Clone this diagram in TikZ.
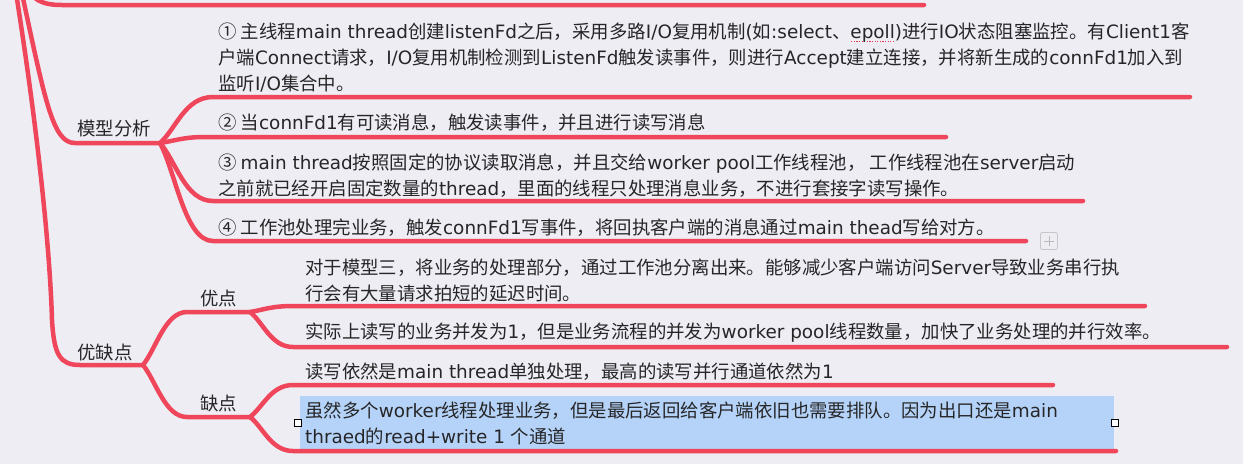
\documentclass[tikz,border=0pt]{standalone}
\usepackage{fontspec}
\setmainfont{Noto Sans CJK SC}
\newfontfamily\enfont{DejaVu Sans}
\newcommand\en[1]{{\enfont #1}}
\definecolor{bg}{RGB}{238,237,243}
\definecolor{br}{RGB}{240,70,92}
\definecolor{tx}{RGB}{38,38,40}
\definecolor{hl}{RGB}{181,211,248}
\definecolor{sq}{RGB}{230,60,80}
\newcommand\squig[1]{\setbox0=\hbox{#1}\rlap{\color{sq}\leaders\hbox to 2.6pt{\hss\vrule width 1.3pt height -2.6pt depth 4pt\hss}\hskip\wd0}#1}
\begin{document}
\begin{tikzpicture}[x=1pt,y=-1pt,
  lnk/.style={draw=br, line width=4.5pt, line cap=round, line join=round},
  txt/.style={anchor=base west, inner sep=0pt, text=tx, font=\fontsize{18.4}{26}\selectfont},
  handle/.style={draw=black, fill=white, minimum size=7pt, inner sep=0pt, line width=0.8pt},
]
\useasboundingbox (0,0) rectangle (1243,464);
\fill[bg] (0,0) rectangle (1243,464);
\clip (0,0) rectangle (1243,464);

% highlight of selected topic
\fill[hl] (300,396) rectangle (1114,449);

% coordinates
\coordinate (R0) at (25,-16);
\coordinate (R1) at (18,-25);
\coordinate (R2) at (14,-20);
\coordinate (T1) at (924,5);
\coordinate (M0) at (75,143);
\coordinate (J1) at (160,143);
\coordinate (Y0) at (80,365);
\coordinate (J2) at (143,365);
\coordinate (C1) at (213,97);   \coordinate (E1) at (1190,97);
\coordinate (C2) at (205,137);  \coordinate (E2) at (946,137);
\coordinate (C3) at (213,201);  \coordinate (E3) at (1083,201);
\coordinate (C4) at (213,241);  \coordinate (E4) at (1026,241);
\coordinate (U0) at (187,312);  \coordinate (U1) at (250,312);
\coordinate (K0) at (187,417);  \coordinate (K1) at (250,417);
\coordinate (P1) at (293,306);  \coordinate (F1) at (1145,306);
\coordinate (P2) at (293,347);  \coordinate (F2) at (1227,347);
\coordinate (Q1) at (293,385);  \coordinate (G1) at (1053,385);
\coordinate (Q2) at (293,451);  \coordinate (G2) at (1116,451);

% trunk
\draw[lnk] (R0) .. controls (32,0) and (42,5) .. (62,5) -- (T1);
\draw[lnk] (R1) .. controls (45,100) and (52,143) .. (M0) -- (J1);
\draw[lnk] (R2) .. controls (38,130) and (50,250) .. (52,320) .. controls (54,355) and (60,365) .. (Y0) -- (J2);

% model analysis branches
\draw[lnk] (J1) .. controls +(16,-14) and +(-28,0) .. (C1) -- (E1);
\draw[lnk] (J1) .. controls +(14,-2) and +(-22,0) .. (C2) -- (E2);
\draw[lnk] (J1) .. controls +(16,18) and +(-28,0) .. (C3) -- (E3);
\draw[lnk] (J1) .. controls +(16,30) and +(-28,0) .. (C4) -- (E4);

% pros / cons
\draw[lnk] (J2) .. controls +(13,-16) and +(-22,0) .. (U0) -- (U1);
\draw[lnk] (J2) .. controls +(13,16) and +(-22,0) .. (K0) -- (K1);
\draw[lnk] (U1) .. controls +(13,-2) and +(-22,0) .. (P1) -- (F1);
\draw[lnk] (U1) .. controls +(13,10) and +(-22,0) .. (P2) -- (F2);
\draw[lnk] (K1) .. controls +(13,-10) and +(-22,0) .. (Q1) -- (G1);
\draw[lnk] (K1) .. controls +(13,10) and +(-22,0) .. (Q2) -- (G2);

% labels
\node[txt] (mx) at (77,135) {模型分析};
\node[txt] (yq) at (77,359) {优缺点};
\node[txt] (yd) at (200,305) {优点};
\node[txt] (qd) at (200,410) {缺点};

% model analysis texts
\node[txt] (a1) at (218,38) {① 主线程\en{main thread}创建\en{listenFd}之后，采用多路\en{I/O}复用机制\en{(}如\en{:select}、\squig{\en{epoll}}\en{)}进行\en{IO}状态阻塞监控。有\en{Client1}客};
\node[txt] (a2) at (218,64) {户端\en{Connect}请求，\en{I/O}复用机制检测到\en{ListenFd}触发读事件，则进行\en{Accept}建立连接，并将新生成的\en{connFd1}加入到};
\node[txt] (a3) at (218,90) {监听\en{I/O}集合中。};
\node[txt] (b1) at (218,129) {② 当\en{connFd1}有可读消息，触发读事件，并且进行读写消息};
\node[txt] (c1) at (218,169) {③ \en{main thread}按照固定的协议读取消息，并且交给\en{worker pool}工作线程池， 工作线程池在\en{server}启动};
\node[txt] (c2) at (218,195) {之前就已经开启固定数量的\en{thread}，里面的线程只处理消息业务，不进行套接字读写操作。};
\node[txt] (d1) at (218,234) {④ 工作池处理完业务，触发\en{connFd1}写事件，将回执客户端的消息通过\en{main thead}写给对方。};

% pros / cons texts
\node[txt] (p1) at (305,274) {对于模型三，将业务的处理部分，通过工作池分离出来。能够减少客户端访问\en{Server}导致业务串行执};
\node[txt] (p2) at (305,300) {行会有大量请求拍短的延迟时间。};
\node[txt] (p3) at (305,338) {实际上读写的业务并发为\en{1}，但是业务流程的并发为\en{worker pool}线程数量，加快了业务处理的并行效率。};
\node[txt] (q1) at (305,378) {读写依然是\en{main thread}单独处理，最高的读写并行通道依然为\en{1}};
\node[txt] (q2) at (305,417) {虽然多个\en{worker}线程处理业务，但是最后返回给客户端依旧也需要排队。因为出口还是\en{main}};
\node[txt] (q3) at (305,443) {\en{thraed}的\en{read+write 1 }个通道};

% selection handles
\node[handle] (h1) at (298,423) {};
\node[handle] (h2) at (1115,423) {};

% add button
\node[draw=gray!45, rounded corners=2pt, minimum size=17pt, inner sep=0pt, line width=0.8pt] (plus) at (1049,241) {};
\draw[gray!55, line width=0.9pt] ([xshift=-5pt]plus.center) -- ([xshift=5pt]plus.center);
\draw[gray!55, line width=0.9pt] ([yshift=-5pt]plus.center) -- ([yshift=5pt]plus.center);
\end{tikzpicture}
\end{document}
